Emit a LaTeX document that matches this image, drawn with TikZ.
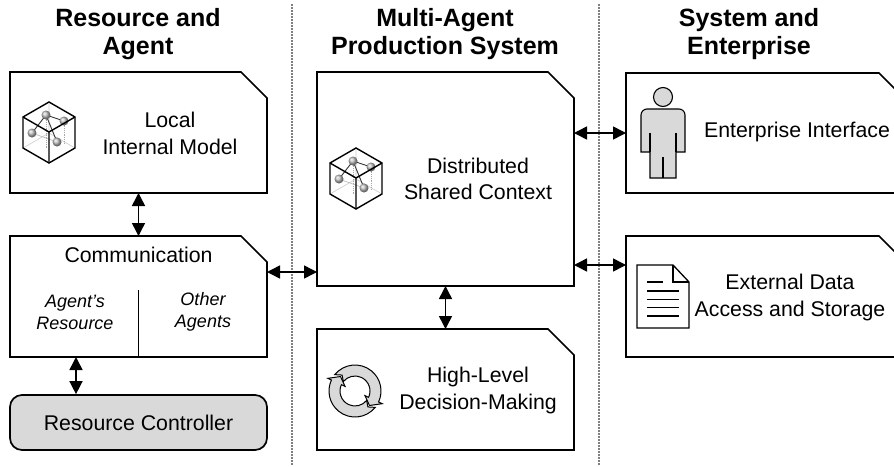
\documentclass[tikz,border=0pt]{standalone}
\usepackage{fontspec}
\setmainfont{Liberation Sans}
\usetikzlibrary{arrows.meta,calc}
\definecolor{icongray}{HTML}{D9D9D9}
\newcommand{\drawcut}[1]{\draw[outline] (#1.south west) -- (#1.north west) -- ([xshift=-26pt]#1.north east) -- ([yshift=-26pt]#1.north east) -- (#1.south east) -- cycle;}
\newcommand{\cubeicon}[1]{%
\begin{scope}[shift={(#1)}]
  \draw[gray!40, line width=0.6pt] (0,0) -- (-26,15) (0,0) -- (26,15) (0,0) -- (0,-31);
  \draw[gray!70, densely dotted, line width=0.8pt] (-3,-18) -- (-3,16) (15,-12) -- (15,11);
  \draw[gray!50, line width=0.7pt] (-17,0) -- (8,9);
  \draw[black!80, line width=0.9pt] (-3,-18) -- (-17,0) (-3,-18) -- (8,9) (-3,-18) -- (15,-12);
  \shade[ball color=gray!50] (-3,-18) circle (4.5);
  \shade[ball color=gray!50] (15,-12) circle (4.5);
  \shade[ball color=gray!50] (-17,0) circle (4.5);
  \shade[ball color=gray!50] (8,9) circle (4.5);
  \draw[line width=1.4pt, line join=miter] (0,-31) -- (26,-16) -- (26,15) -- (0,30) -- (-26,15) -- (-26,-16) -- cycle;
  \draw[line width=1.4pt] (-26,-16) -- (0,-1) -- (26,-16) (0,-1) -- (0,30);
\end{scope}}
\begin{document}
\begin{tikzpicture}[x=1pt,y=-1pt,
  box/.style={draw=none,inner sep=0pt,outer sep=0pt},
  outline/.style={line width=1.7pt, line join=miter, fill=white},
  lbl/.style={font=\fontsize{21.3}{26.5}\selectfont, align=center, inner sep=0pt},
  ilbl/.style={font=\fontsize{18}{22}\selectfont\itshape, align=center, inner sep=0pt},
  hdr/.style={font=\fontsize{25}{28}\selectfont\bfseries, align=center, inner sep=0pt},
  biarrow/.style={line width=1.5pt, {Triangle[length=13pt,width=13pt]}-{Triangle[length=13pt,width=13pt]}},
  divider/.style={gray, line width=1.2pt, dash pattern=on 1.5pt off 1.5pt},
  iconfill/.style={fill=icongray, draw=black, line width=1pt}
]
\useasboundingbox (0,0) rectangle (894,466);
\clip (0,0) rectangle (894,466);

% dividers
\draw[divider] (292,4) -- (292,466);
\draw[divider] (599,4) -- (599,466);

% headers
\node[hdr] (h1) at (138,34) {Resource and\\Agent};
\node[hdr] (h2) at (445,34) {Multi-Agent\\Production System};
\node[hdr] (h3) at (749,34) {System and\\Enterprise};

% boxes
\node[box, minimum width=257pt, minimum height=121pt] (lim) at (138.5,132.5) {};
\drawcut{lim}
\node[box, minimum width=257pt, minimum height=121pt] (comm) at (138.5,296.5) {};
\drawcut{comm}
\draw[line width=1.7pt] (comm.south) -- ++(0,-67);
\node[draw, line width=1.7pt, rounded corners=12pt, fill=icongray, minimum width=257pt, minimum height=55pt, lbl] (rc) at (138.5,422.5) {Resource Controller};

\node[box, minimum width=257pt, minimum height=214pt] (dsc) at (445.5,179) {};
\drawcut{dsc}
\node[box, minimum width=257pt, minimum height=121pt] (hldm) at (445.5,389.5) {};
\drawcut{hldm}

\node[box, minimum width=279pt, minimum height=120pt] (ei) at (765.5,133) {};
\drawcut{ei}
\node[box, minimum width=279pt, minimum height=121pt] (eda) at (765.5,296.5) {};
\drawcut{eda}

% texts
\node[lbl] (limtxt) at (170,133.5) {Local\\Internal Model};
\node[lbl] (commtxt) at (138.5,255) {Communication};
\node[ilbl] (agres) at (75,312) {Agent’s\\Resource};
\node[ilbl] (oth) at (203,312) {Other\\Agents};
\node[lbl] (dsctxt) at (478,179) {Distributed\\Shared Context};
\node[lbl] (hldmtxt) at (478,390.5) {High-Level\\Decision-Making};
\node[lbl] (eitxt) at (797,132) {Enterprise Interface};
\node[lbl] (edatxt) at (790,297.5) {External Data\\Access and Storage};

% icons
\cubeicon{49,133}
\cubeicon{356,179}

% circular arrows
\begin{scope}[shift={(355,391)}]
  \filldraw[iconfill, line join=miter] (-141:26) arc[start angle=-141, end angle=25, radius=26] -- (25:30) -- (45:20.5) -- (25:11) -- (25:15) arc[start angle=25, end angle=-141, radius=15] -- (-129:20.5) -- cycle;
  \filldraw[iconfill, line join=miter] (39:26) arc[start angle=39, end angle=205, radius=26] -- (205:30) -- (225:20.5) -- (205:11) -- (205:15) arc[start angle=205, end angle=39, radius=15] -- (51:20.5) -- cycle;
\end{scope}

% person
\filldraw[iconfill, line width=1.1pt] (650,178) -- (650,152) -- (641,152) {[rounded corners=6pt] -- (641,109) -- (685,109)} -- (685,152) -- (676,152) -- (676,178) -- cycle;
\draw[line width=1.1pt] (650,133) -- (650,152) (676,133) -- (676,152) (663,157) -- (663,178);
\filldraw[iconfill, line width=1.1pt] (663,97) circle (9.5);

% document
\draw[line width=1.3pt, fill=white, line join=miter] (637,265) -- (673,265) -- (689,282) -- (689,328) -- (637,328) -- cycle;
\draw[line width=1.3pt] (673,265) -- (673,282) -- (689,282);
\draw[line width=1.3pt] (647,282) -- (663,282) (647,291) -- (679,291) (647,299.5) -- (679,299.5) (647,307.5) -- (679,307.5) (647,316) -- (679,316);

% connectors
\draw[biarrow] (lim.south) -- (comm.north);
\draw[biarrow] ([xshift=-62.5pt]comm.south) -- ([xshift=-62.5pt]rc.north);
\path ([yshift=24.5pt]comm.east) coordinate (c1);
\draw[biarrow] (c1) -- (c1 -| dsc.west);
\draw[biarrow] (ei.west -| dsc.east) -- (ei.west);
\path ([yshift=31.5pt]eda.west) coordinate (c2);
\draw[biarrow] (c2 -| dsc.east) -- (c2);
\draw[biarrow] (dsc.south) -- (hldm.north);
\end{tikzpicture}
\end{document}
